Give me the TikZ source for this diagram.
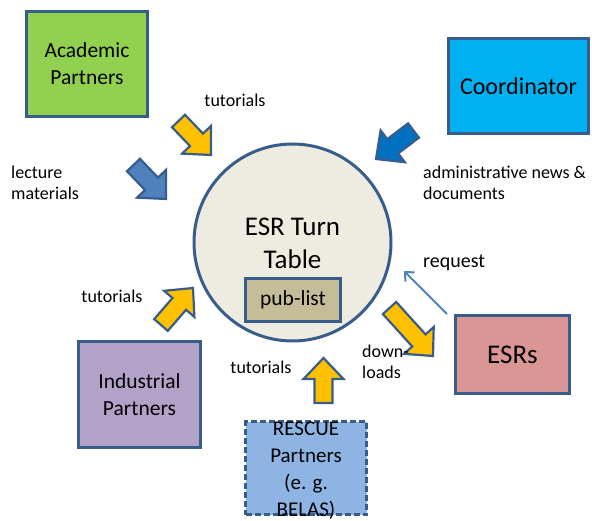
\documentclass[tikz,border=0pt]{standalone}
\usepackage{fontspec}
\setmainfont{Carlito}
\usetikzlibrary{calc,arrows.meta}

\definecolor{edgeblue}{RGB}{56,93,138}
\definecolor{acadgreen}{RGB}{146,208,80}
\definecolor{coordcyan}{RGB}{0,176,240}
\definecolor{esrpink}{RGB}{217,150,148}
\definecolor{induslilac}{RGB}{178,162,199}
\definecolor{rescueblue}{RGB}{141,180,226}
\definecolor{tablecream}{RGB}{238,236,225}
\definecolor{pubkhaki}{RGB}{196,189,151}
\definecolor{arrowyellow}{RGB}{255,192,0}
\definecolor{arrowblue}{RGB}{79,129,189}
\definecolor{arrowdark}{RGB}{0,112,192}

% block arrow: #1 fill, #2 tail, #3 tip
\newcommand{\blockarrow}[3]{%
  \coordinate (#2-base) at ($(#3)!21pt!(#2)$);
  \filldraw[draw=edgeblue, line width=2.2pt, fill=#1, line join=miter]
    ($(#2)!9pt!90:(#3)$) -- ($(#2-base)!9pt!90:(#3)$) -- ($(#2-base)!20pt!90:(#3)$) -- (#3)
    -- ($(#2-base)!20pt!-90:(#3)$) -- ($(#2-base)!9pt!-90:(#3)$) -- ($(#2)!9pt!-90:(#3)$) -- cycle;}

\begin{document}
\begin{tikzpicture}[x=1pt, y=-1pt,
	party/.style={draw=edgeblue, line width=2.8pt, align=center, inner sep=0pt,
		font=\fontsize{21.5}{27}\selectfont},
	note/.style={align=left, inner sep=0pt, font=\fontsize{18}{21}\selectfont}]
	\useasboundingbox (0,0) rectangle (592,521);

	% Nodes {acad, coord, turn, pub, indus, rescue, esrs}
	\node [party, fill=acadgreen, minimum width=121, minimum height=105] 	(acad)   at (87,64)     {Academic\\Partners};
	\node [party, fill=coordcyan, minimum width=140, minimum height=95,
		font=\fontsize{24}{29}\selectfont] 									(coord)  at (518.5,86)  {Coordinator};
	\node [circle, draw=edgeblue, line width=3pt, fill=tablecream, minimum size=197, align=center,
		font=\fontsize{27}{33}\selectfont] 									(turn)   at (292.5,242.5) {};
	\node [align=center, font=\fontsize{27}{33}\selectfont] 				(turntext) at (292.5,243.5) {ESR Turn\\Table};
	\node [party, fill=pubkhaki, minimum width=95, minimum height=43] 		(pub)    at (293,300)   {pub-list};
	\node [party, fill=induslilac, minimum width=122, minimum height=106] 	(indus)  at (139.5,394.5) {Industrial\\Partners};
	\node [party, fill=rescueblue, dash pattern=on 6pt off 3pt,
		minimum width=121, minimum height=93] 								(rescue) at (306,468)   {};
	\node [align=center, font=\fontsize{21}{27}\selectfont] 				(rescuetext) at (306,471) {RESCUE\\Partners\\(e. g.\\BELAS)};
	\node [party, fill=esrpink, minimum width=114, minimum height=78,
		font=\fontsize{27}{33}\selectfont] 									(esrs)   at (512.5,354.5) {ESRs};

	% Arrows
	\coordinate (acadT) at (178.5,121);  \coordinate (acadH) at (211,155);
	\coordinate (lectT) at (133.5,165);  \coordinate (lectH) at (166,199);
	\coordinate (coordT) at (413.5,130.5); \coordinate (coordH) at (376,159);
	\coordinate (indusT) at (161,325);   \coordinate (indusH) at (193,288);
	\coordinate (rescueT) at (323.5,403); \coordinate (rescueH) at (323.5,358);
	\coordinate (downT) at (389.5,308);  \coordinate (downH) at (433,356);
	\coordinate (reqT) at (447,314);     \coordinate (reqH) at (404,271);

	\blockarrow{arrowyellow}{acadT}{acadH}
	\blockarrow{arrowblue}{lectT}{lectH}
	\blockarrow{arrowdark}{coordT}{coordH}
	\blockarrow{arrowyellow}{indusT}{indusH}
	\blockarrow{arrowyellow}{rescueT}{rescueH}
	\blockarrow{arrowyellow}{downT}{downH}

	\path [draw=arrowblue, line width=2pt, -{Straight Barb[length=7pt, width=13pt]}] (reqT) -- (reqH);

	% Labels
	\node [note] 							(tutA)   at (235,100)  {tutorials};
	\node [note, anchor=west] 				(lect)   at (11,182.5) {lecture\\materials};
	\node [note, anchor=west] 				(admin)  at (423,182.5) {administrative news \&\\documents};
	\node [note, anchor=west, font=\fontsize{20}{24}\selectfont] (req) at (423,263) {request};
	\node [note, anchor=west] 				(down)   at (362,361.5) {down-\\loads};
	\node [note] 							(tutI)   at (112,296)  {tutorials};
	\node [note] 							(tutR)   at (261,367)  {tutorials};
\end{tikzpicture}
\end{document}
